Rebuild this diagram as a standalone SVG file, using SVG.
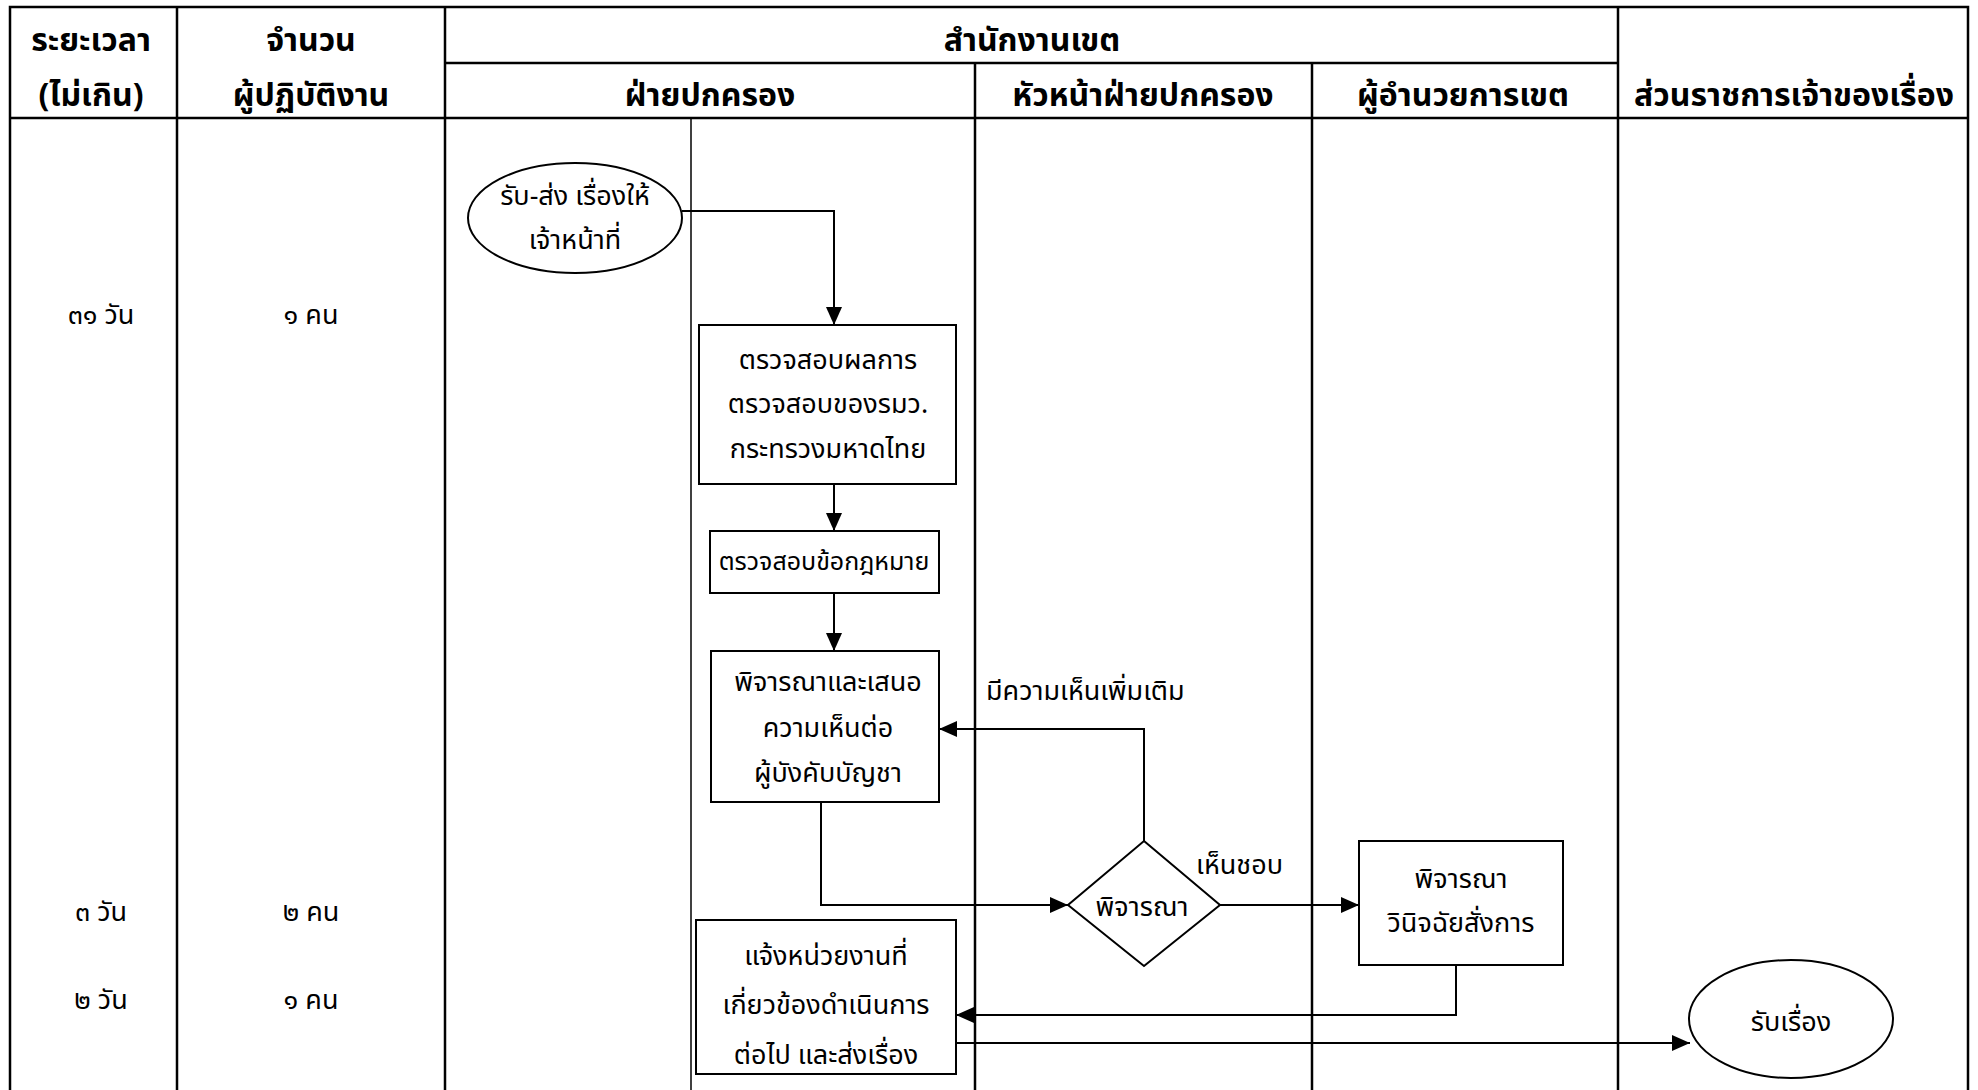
<svg xmlns="http://www.w3.org/2000/svg" width="1978" height="1090" viewBox="0 0 1978 1090">
<style>
.grid{stroke:#000;stroke-width:2.5;fill:none}
.thin{stroke:#000;stroke-width:1.5;fill:none}
.shape{stroke:#000;stroke-width:2;fill:#fff}
.conn{stroke:#000;stroke-width:2;fill:none}
.hd{font-family:'Noto Sans Thai','Noto Sans','DejaVu Sans',sans-serif;font-weight:bold;font-size:32px;text-anchor:middle;fill:#000}
.tx{font-family:'Noto Sans Thai','Noto Sans','DejaVu Sans',sans-serif;font-size:27px;text-anchor:middle;dominant-baseline:central;fill:#000}
.lb{font-family:'Noto Sans Thai','Noto Sans','DejaVu Sans',sans-serif;font-size:27px;dominant-baseline:central;fill:#000}
</style>
<defs>
<marker id="arr" viewBox="0 0 18 16" refX="18" refY="8" markerWidth="18" markerHeight="16" markerUnits="userSpaceOnUse" orient="auto">
<path d="M0,0 L18,8 L0,16 Z" fill="#000"/>
</marker>
</defs>
<rect width="1978" height="1090" fill="#fff"/>
<g id="table">
<path class="grid" d="M10,1090 V7 H1968 V1090"/>
<path class="grid" d="M10,118 H1968"/>
<path class="grid" d="M445,63 H1618"/>
<path class="grid" d="M177,7 V1090 M445,7 V1090 M1618,7 V1090"/>
<path class="grid" d="M975,63 V1090 M1312,63 V1090"/>
<path class="thin" d="M691,118 V1090"/>
</g>
<g id="headers">
<text class="hd" x="91" y="51">ระยะเวลา</text>
<text class="hd" x="91" y="106">(ไม่เกิน)</text>
<text class="hd" x="311" y="51">จำนวน</text>
<text class="hd" x="311" y="106">ผู้ปฏิบัติงาน</text>
<text class="hd" x="1032" y="51">สำนักงานเขต</text>
<text class="hd" x="710" y="106">ฝ่ายปกครอง</text>
<text class="hd" x="1143" y="106">หัวหน้าฝ่ายปกครอง</text>
<text class="hd" x="1463" y="106">ผู้อำนวยการเขต</text>
<text class="hd" x="1794" y="106">ส่วนราชการเจ้าของเรื่อง</text>
</g>
<g id="times">
<text class="tx" x="101" y="315">๓๑ วัน</text>
<text class="tx" x="311" y="315">๑ คน</text>
<text class="tx" x="101" y="912">๓ วัน</text>
<text class="tx" x="311" y="912">๒ คน</text>
<text class="tx" x="101" y="1000">๒ วัน</text>
<text class="tx" x="311" y="1000">๑ คน</text>
</g>
<g id="connectors">
<path class="conn" d="M682,211 H834 V325" marker-end="url(#arr)"/>
<path class="conn" d="M834,484 V531" marker-end="url(#arr)"/>
<path class="conn" d="M834,593 V651" marker-end="url(#arr)"/>
<path class="conn" d="M821,802 V905 H1068" marker-end="url(#arr)"/>
<path class="conn" d="M1144,841 V729 H939" marker-end="url(#arr)"/>
<path class="conn" d="M1220,905 H1359" marker-end="url(#arr)"/>
<path class="conn" d="M1456,965 V1015 H956" marker-end="url(#arr)"/>
<path class="conn" d="M956,1043 H1690" marker-end="url(#arr)"/>
<text class="lb" x="986" y="691">มีความเห็นเพิ่มเติม</text>
<text class="lb" x="1196" y="865">เห็นชอบ</text>
</g>
<g id="start">
<ellipse class="shape" cx="575" cy="218" rx="107" ry="55"/>
<text class="tx" x="575" y="196">รับ-ส่ง เรื่องให้</text>
<text class="tx" x="575" y="240">เจ้าหน้าที่</text>
</g>
<g id="check-result">
<rect class="shape" x="699" y="325" width="257" height="159"/>
<text class="tx" x="828" y="360">ตรวจสอบผลการ</text>
<text class="tx" x="828" y="404">ตรวจสอบของรมว.</text>
<text class="tx" x="828" y="449">กระทรวงมหาดไทย</text>
</g>
<g id="check-law">
<rect class="shape" x="710" y="531" width="229" height="62"/>
<text class="tx" x="824" y="562" style="font-size:25px">ตรวจสอบข้อกฎหมาย</text>
</g>
<g id="propose">
<rect class="shape" x="711" y="651" width="228" height="151"/>
<text class="tx" x="828" y="682">พิจารณาและเสนอ</text>
<text class="tx" x="828" y="728">ความเห็นต่อ</text>
<text class="tx" x="828" y="773">ผู้บังคับบัญชา</text>
</g>
<g id="decision">
<polygon class="shape" points="1144,841 1220,905 1144,966 1068,905"/>
<text class="tx" x="1142" y="907">พิจารณา</text>
</g>
<g id="director">
<rect class="shape" x="1359" y="841" width="204" height="124"/>
<text class="tx" x="1461" y="879">พิจารณา</text>
<text class="tx" x="1461" y="923">วินิจฉัยสั่งการ</text>
</g>
<g id="notify">
<rect class="shape" x="696" y="920" width="260" height="154"/>
<text class="tx" x="826" y="956">แจ้งหน่วยงานที่</text>
<text class="tx" x="826" y="1005">เกี่ยวข้องดำเนินการ</text>
<text class="tx" x="826" y="1055">ต่อไป และส่งเรื่อง</text>
</g>
<g id="end">
<ellipse class="shape" cx="1791" cy="1019" rx="102" ry="59"/>
<text class="tx" x="1791" y="1022">รับเรื่อง</text>
</g>
</svg>
